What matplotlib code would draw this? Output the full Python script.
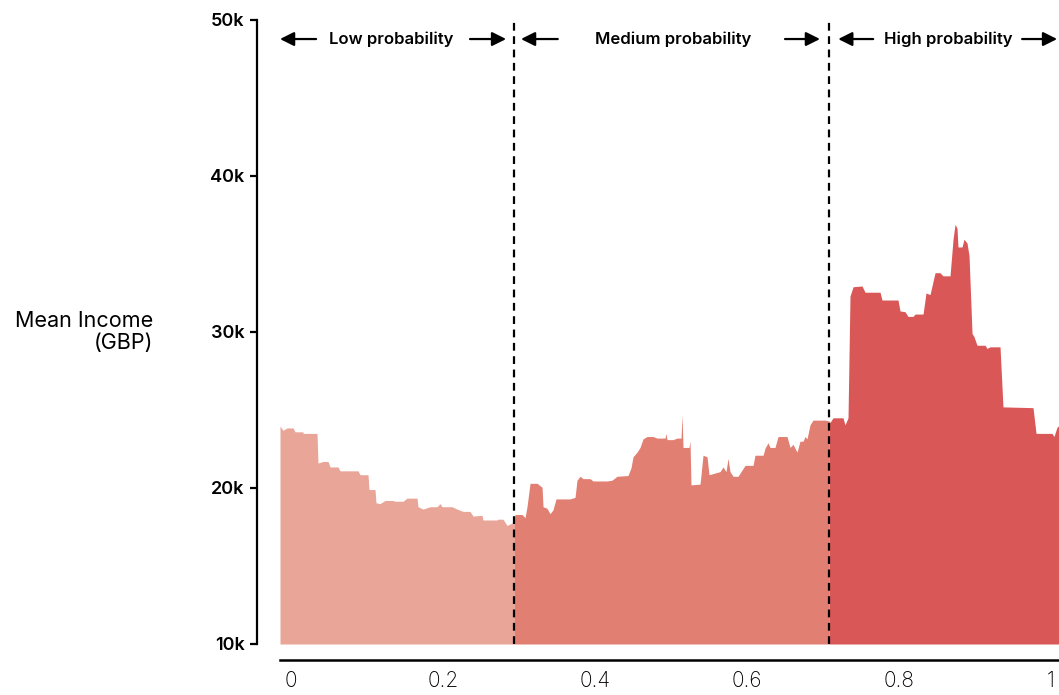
import matplotlib.pyplot as plt
from matplotlib.ticker import FuncFormatter

plt.rcParams['font.family'] = ['Inter', 'DejaVu Sans']

# probability (x) and mean income in thousands GBP (y)
low_x = [-0.0145, -0.0105, -0.0053, 0.0026, 0.0053, 0.0158, 0.0158, 0.0342, 0.0355, 0.0421,
         0.0487, 0.0513, 0.0618, 0.0645, 0.0882, 0.0908, 0.1013, 0.1026, 0.1105, 0.1118,
         0.1171, 0.1237, 0.1342, 0.1368, 0.1474, 0.1526, 0.1658, 0.1671, 0.1737, 0.1829,
         0.1921, 0.1961, 0.1987, 0.2118, 0.2184, 0.2263, 0.2355, 0.2395, 0.2513, 0.2526,
         0.2711, 0.2724, 0.2789, 0.2842, 0.2908, 0.2934]
low_y = [23.97, 23.7, 23.85, 23.85, 23.6, 23.6, 23.5, 23.5, 21.6, 21.7,
         21.7, 21.35, 21.35, 21.1, 21.1, 20.85, 20.85, 19.9, 19.9, 19.05,
         19.0, 19.2, 19.2, 19.15, 19.15, 19.35, 19.35, 18.8, 18.65, 18.8,
         18.8, 19.0, 18.8, 18.8, 18.65, 18.5, 18.5, 18.2, 18.25, 17.95,
         17.95, 18.0, 18.0, 17.6, 17.75, 17.9]

mid_x = [0.2934, 0.2947, 0.3039, 0.3079, 0.3105, 0.3145, 0.3237, 0.3303, 0.3316, 0.3368,
         0.3408, 0.3447, 0.3487, 0.3671, 0.3737, 0.3763, 0.3803, 0.3842, 0.3934, 0.3974,
         0.4158, 0.4224, 0.4289, 0.4434, 0.4474, 0.45, 0.4553, 0.4592, 0.4632, 0.4684,
         0.4763, 0.4816, 0.4921, 0.4934, 0.4947, 0.5026, 0.5079, 0.5132, 0.5145, 0.5158,
         0.5237, 0.525, 0.5263, 0.5382, 0.5421, 0.5474, 0.55, 0.5645, 0.5684, 0.5724,
         0.575, 0.5776, 0.5816, 0.5882, 0.5908, 0.5974, 0.6079, 0.6105, 0.6211, 0.6237,
         0.6276, 0.6303, 0.6368, 0.6408, 0.6526, 0.6566, 0.6605, 0.6658, 0.6697, 0.6737,
         0.6763, 0.6789, 0.6829, 0.6868, 0.7026, 0.7079]
mid_y = [17.9, 18.3, 18.3, 18.1, 18.8, 20.3, 20.3, 20.05, 18.8, 18.7,
         18.35, 18.6, 19.3, 19.3, 19.4, 20.5, 20.75, 20.6, 20.6, 20.45,
         20.45, 20.5, 20.75, 20.8, 21.3, 22.0, 22.3, 22.6, 23.15, 23.3,
         23.3, 23.2, 23.2, 23.5, 23.1, 23.1, 23.2, 23.2, 24.7, 22.6,
         22.6, 23.0, 20.2, 20.25, 22.1, 22.0, 20.85, 21.05, 21.35, 21.05,
         21.9, 21.05, 20.75, 20.75, 20.95, 21.45, 21.45, 22.1, 22.1, 22.55,
         22.9, 22.6, 22.6, 23.3, 23.3, 22.6, 22.8, 22.3, 23.0, 23.0,
         23.3, 23.15, 24.05, 24.35, 24.35, 24.3]

high_x = [0.7079, 0.7092, 0.7132, 0.7263, 0.7289, 0.7329, 0.7355, 0.7395, 0.7513, 0.7553,
          0.775, 0.7776, 0.7987, 0.8013, 0.8079, 0.8118, 0.8184, 0.8211, 0.8316, 0.8355,
          0.8408, 0.8474, 0.8539, 0.8579, 0.8671, 0.8711, 0.8737, 0.8763, 0.8776, 0.8829,
          0.8855, 0.8895, 0.8921, 0.8961, 0.8987, 0.9026, 0.9132, 0.9158, 0.9197, 0.9329,
          0.9368, 0.9763, 0.9803, 1.0013, 1.0039, 1.0079, 1.0105]
high_y = [24.3, 24.2, 24.5, 24.5, 24.05, 24.5, 32.3, 32.9, 32.95, 32.55,
          32.55, 32.05, 32.05, 31.35, 31.3, 31.0, 31.0, 31.15, 31.15, 32.5,
          32.4, 33.8, 33.8, 33.6, 33.6, 35.95, 36.9, 36.65, 35.45, 35.45,
          35.95, 35.7, 34.9, 29.9, 29.7, 29.15, 29.15, 28.95, 29.05, 29.05,
          25.2, 25.15, 23.5, 23.5, 23.3, 23.9, 24.0]

cut_low, cut_high = 0.2934, 0.7079
x_ticks = [0, 0.2, 0.4, 0.6, 0.8, 1]
x_labels = ['0', '0.2', '0.4', '0.6', '0.8', '1']
y_ticks = [10, 20, 30, 40, 50]

fig = plt.figure(figsize=(10.59, 6.95), dpi=100)
ax = fig.add_axes([280 / 1059, 51 / 695, 779 / 1059, 624 / 695])

ax.fill_between(low_x, 10, low_y, color='#e8a598', lw=0)
ax.fill_between(mid_x, 10, mid_y, color='#e07f72', lw=0)
ax.fill_between(high_x, 10, high_y, color='#d95756', lw=0)

for xc in (cut_low, cut_high):
    ax.plot([xc, xc], [10, 50], color='black', lw=1.6, ls=(0, (3.5, 2.5)), clip_on=False)

ax.set_xlim(-0.0145, 1.0105)
ax.set_ylim(10, 50)

# range annotations
ya = 48.78
arrows = [(0.033, -0.0145), (0.2355, 0.283), (0.351, 0.3026), (0.65, 0.696),
          (0.766, 0.72), (0.962, 1.008)]
for x0, x1 in arrows:
    ax.annotate('', xy=(x1, ya), xytext=(x0, ya),
                arrowprops=dict(arrowstyle='-|>,head_length=0.6,head_width=0.3',
                                color='black', lw=1.6, mutation_scale=14,
                                shrinkA=0, shrinkB=0),
                annotation_clip=False)
for xt, txt in [(0.132, 'Low probability'), (0.5026, 'Medium probability'),
                (0.8645, 'High probability')]:
    ax.text(xt, ya, txt, ha='center', va='center', fontsize=12, fontweight='semibold')

for s in ('top', 'right'):
    ax.spines[s].set_visible(False)
ax.spines['left'].set_position(('outward', 16.5))
ax.spines['left'].set_linewidth(1.6)
ax.spines['bottom'].set_position(('outward', 11.5))
ax.spines['bottom'].set_linewidth(1.8)

ax.set_yticks(y_ticks)
ax.yaxis.set_major_formatter(FuncFormatter(lambda v, p: f'{int(v)}k'))
ax.tick_params(axis='y', direction='out', length=5, width=1.6, labelsize=13, pad=4)
for lab in ax.get_yticklabels():
    lab.set_fontweight('semibold')

ax.set_xticks(x_ticks)
ax.set_xticklabels(x_labels)
ax.tick_params(axis='x', length=0, labelsize=15, pad=8, labelcolor='black')
for lab in ax.get_xticklabels():
    lab.set_fontweight('light')

fig.text(153 / 1059, 1 - 332 / 695, 'Mean Income\n(GBP)', ha='right', va='center',
         fontsize=15.5, linespacing=1.15)

fig.savefig('out.png', dpi=100)
